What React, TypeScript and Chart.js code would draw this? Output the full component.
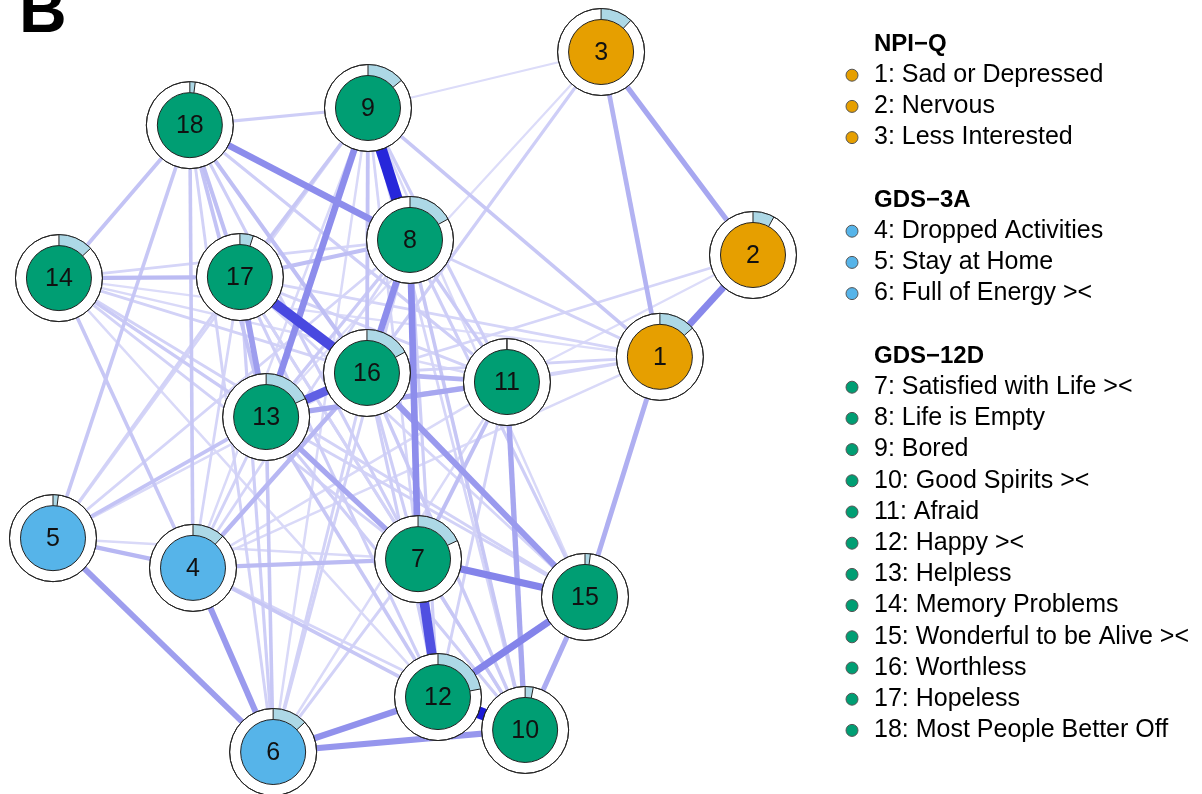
import React, { useEffect, useRef } from "react";
import { Chart, registerables } from "chart.js";
Chart.register(...registerables);

// ---- Data (qgraph-style layout in [-1, 1]) ----
const nodeIds = [1, 2, 3, 4, 5, 6, 7, 8, 9, 10, 11, 12, 13, 14, 15, 16, 17, 18];
const nodeX = [0.734, 1.0, 0.566, -0.6, -1.0, -0.371, 0.043, 0.02, -0.1, 0.349, 0.297, 0.1, -0.391, -0.983, 0.52, -0.103, -0.466, -0.609];
const nodeY = [0.129, 0.42, 1.0, -0.474, -0.389, -1.0, -0.449, 0.463, 0.84, -0.937, 0.057, -0.843, -0.043, 0.354, -0.557, 0.083, 0.357, 0.791];
const nodeGroup = [0, 0, 0, 1, 1, 1, 2, 2, 2, 2, 2, 2, 2, 2, 2, 2, 2, 2];
const predictability = [0.135, 0.08, 0.12, 0.12, 0.02, 0.13, 0.18, 0.17, 0.14, 0.03, 0.0, 0.22, 0.18, 0.13, 0.02, 0.17, 0.05, 0.02];

const groupNames = ["NPI\u2212Q", "GDS\u22123A", "GDS\u221212D"];
const groupColors = ["#E69F00", "#56B4E9", "#009E73"];
const itemLabels = [
  "1: Sad or Depressed",
  "2: Nervous",
  "3: Less Interested",
  "4: Dropped Activities",
  "5: Stay at Home",
  "6: Full of Energy ><",
  "7: Satisfied with Life ><",
  "8: Life is Empty",
  "9: Bored",
  "10: Good Spirits ><",
  "11: Afraid",
  "12: Happy ><",
  "13: Helpless",
  "14: Memory Problems",
  "15: Wonderful to be Alive ><",
  "16: Worthless",
  "17: Hopeless",
  "18: Most People Better Off",
];
const panelLetter = "B";

// edges: [from, to, weight]
const edges: [number, number, number][] = [
  [9, 8, 0.92], [12, 10, 0.97], [17, 16, 0.78], [7, 12, 0.75], [13, 16, 0.68],
  [2, 1, 0.5], [18, 8, 0.48], [9, 13, 0.48], [8, 7, 0.48], [8, 16, 0.48],
  [7, 15, 0.52], [12, 15, 0.52], [12, 6, 0.46], [6, 10, 0.44], [5, 6, 0.4],
  [4, 6, 0.42], [13, 11, 0.36], [16, 11, 0.3], [16, 15, 0.42], [11, 10, 0.36],
  [17, 13, 0.4], [3, 1, 0.3], [3, 2, 0.36], [1, 15, 0.32], [15, 10, 0.34], [13, 7, 0.36],
  [18, 14, 0.22], [18, 5, 0.2], [18, 4, 0.2], [18, 17, 0.24], [18, 13, 0.22], [18, 16, 0.24],
  [18, 9, 0.16], [18, 11, 0.16], [18, 7, 0.16], [18, 6, 0.14],
  [14, 17, 0.26], [14, 16, 0.14], [14, 13, 0.18], [14, 7, 0.14], [14, 11, 0.1], [14, 4, 0.2],
  [14, 15, 0.14], [14, 12, 0.1], [14, 8, 0.12],
  [5, 4, 0.28], [5, 13, 0.22], [5, 17, 0.14], [5, 8, 0.12], [5, 16, 0.1], [5, 7, 0.1], [5, 9, 0.12],
  [4, 7, 0.26], [4, 16, 0.28], [4, 12, 0.2], [4, 13, 0.14], [4, 8, 0.12], [4, 9, 0.1],
  [4, 17, 0.12], [4, 11, 0.1], [4, 10, 0.12],
  [6, 13, 0.2], [6, 16, 0.14], [6, 8, 0.14], [6, 7, 0.14], [6, 17, 0.16], [6, 11, 0.1], [6, 9, 0.1],
  [7, 16, 0.16], [7, 17, 0.14], [7, 11, 0.24], [7, 10, 0.2], [7, 9, 0.12],
  [12, 16, 0.16], [12, 13, 0.2], [12, 17, 0.16], [12, 8, 0.16], [12, 11, 0.14],
  [10, 8, 0.2], [10, 16, 0.18], [10, 13, 0.16], [10, 17, 0.14], [10, 9, 0.12],
  [15, 13, 0.14], [15, 8, 0.16], [15, 17, 0.12], [15, 9, 0.1],
  [1, 9, 0.2], [1, 8, 0.14], [1, 17, 0.12], [1, 16, 0.14], [1, 11, 0.12], [1, 13, 0.12],
  [1, 4, 0.1], [1, 14, 0.08],
  [2, 16, 0.12], [2, 11, 0.08],
  [3, 16, 0.16], [3, 9, 0.08], [3, 13, 0.08],
  [8, 17, 0.24], [8, 13, 0.18], [8, 11, 0.18], [9, 16, 0.22], [9, 17, 0.2], [9, 11, 0.16],
  [17, 11, 0.14],
];

// ---- helpers ----
function edgeColor(w: number) {
  const f = Math.pow(w, 1.15);
  const rg = Math.round(232 - 212 * f);
  const b = Math.round(251 - 36 * f);
  return `rgb(${rg},${rg},${b})`;
}
function edgeWidth(w: number) {
  return 1.4 + w * 11;
}

const xMin = -1.1514, xMax = 2.2829, yMin = -1.12, yMax = 1.1486;
const OUTER_R = 43.5;
const INNER_R = 32.5;
const FONT = "'Liberation Sans', Arial, Helvetica, sans-serif";

const overlayPlugin = {
  id: "networkOverlay",
  afterDatasetsDraw(chart: any) {
    const ctx = chart.ctx as CanvasRenderingContext2D;
    const xs = chart.scales.x;
    const ys = chart.scales.y;
    ctx.save();
    nodeIds.forEach((id, i) => {
      const cx = xs.getPixelForValue(nodeX[i]);
      const cy = ys.getPixelForValue(nodeY[i]);
      const p = predictability[i];
      const a0 = -Math.PI / 2;
      const a1 = a0 + 2 * Math.PI * p;
      if (p > 0) {
        ctx.beginPath();
        ctx.arc(cx, cy, OUTER_R, a0, a1, false);
        ctx.arc(cx, cy, INNER_R, a1, a0, true);
        ctx.closePath();
        ctx.fillStyle = "#ADD8E6";
        ctx.fill();
      }
      ctx.strokeStyle = "#222";
      ctx.lineWidth = 1;
      [a0, a1].forEach((a) => {
        ctx.beginPath();
        ctx.moveTo(cx + INNER_R * Math.cos(a), cy + INNER_R * Math.sin(a));
        ctx.lineTo(cx + OUTER_R * Math.cos(a), cy + OUTER_R * Math.sin(a));
        ctx.stroke();
      });
      ctx.beginPath();
      ctx.arc(cx, cy, OUTER_R, 0, Math.PI * 2);
      ctx.stroke();
      ctx.beginPath();
      ctx.arc(cx, cy, INNER_R, 0, Math.PI * 2);
      ctx.fillStyle = groupColors[nodeGroup[i]];
      ctx.fill();
      ctx.stroke();
      ctx.fillStyle = "#111";
      ctx.font = `25px ${FONT}`;
      ctx.textAlign = "center";
      ctx.textBaseline = "middle";
      ctx.fillText(String(id), cx, cy + 1);
    });

    // legend
    const bulletX = 852;
    const textX = 874;
    const step = 31.2;
    let y = 44;
    groupNames.forEach((g, gi) => {
      ctx.font = `bold 24px ${FONT}`;
      ctx.fillStyle = "#000";
      ctx.textAlign = "left";
      ctx.textBaseline = "middle";
      ctx.fillText(g, textX, y);
      const members = nodeIds.map((_, k) => k).filter((k) => nodeGroup[k] === gi);
      members.forEach((k) => {
        y += step;
        ctx.beginPath();
        ctx.arc(bulletX, y, 6, 0, Math.PI * 2);
        ctx.fillStyle = groupColors[gi];
        ctx.fill();
        ctx.strokeStyle = "#555";
        ctx.lineWidth = 1;
        ctx.stroke();
        ctx.font = `25px ${FONT}`;
        ctx.fillStyle = "#000";
        ctx.fillText(itemLabels[k], textX, y);
      });
      y += step * 2;
    });

    ctx.font = `bold 66px ${FONT}`;
    ctx.fillStyle = "#000";
    ctx.textAlign = "left";
    ctx.textBaseline = "alphabetic";
    ctx.fillText(panelLetter, 19, 32);
    ctx.restore();
  },
};

export default function App() {
  const canvasRef = useRef<HTMLCanvasElement | null>(null);

  useEffect(() => {
    if (!canvasRef.current) return;
    const pos = (id: number) => ({ x: nodeX[id - 1], y: nodeY[id - 1] });
    const edgeSets = edges.map(([a, b, w]) => ({
      type: "line" as const,
      data: [pos(a), pos(b)],
      showLine: true,
      borderColor: edgeColor(w),
      backgroundColor: edgeColor(w),
      borderWidth: edgeWidth(w),
      borderCapStyle: "butt" as const,
      pointRadius: 0,
      pointHoverRadius: 0,
      fill: false,
      tension: 0,
      order: 10 - w * 5,
    }));
    const nodeSet = {
      type: "scatter" as const,
      data: nodeIds.map((id) => pos(id)),
      pointRadius: OUTER_R,
      pointHoverRadius: OUTER_R,
      pointBackgroundColor: "#ffffff",
      pointBorderColor: "#222",
      pointBorderWidth: 1,
      order: -1,
    };
    const chart = new Chart(canvasRef.current, {
      type: "scatter",
      data: { datasets: [...edgeSets, nodeSet] as any },
      options: {
        animation: false,
        responsive: true,
        maintainAspectRatio: false,
        events: [],
        layout: { padding: 0, autoPadding: false },
        plugins: { legend: { display: false }, tooltip: { enabled: false } },
        scales: {
          x: { type: "linear", display: false, min: xMin, max: xMax },
          y: { type: "linear", display: false, min: yMin, max: yMax },
        },
        datasets: { line: { clip: false as any }, scatter: { clip: false as any } },
      } as any,
      plugins: [overlayPlugin],
    });
    return () => chart.destroy();
  }, []);

  return (
    <div style={{ position: "fixed", left: 0, top: 0, width: "1202px", height: "794px", background: "#fff" }}>
      <canvas ref={canvasRef} />
    </div>
  );
}
